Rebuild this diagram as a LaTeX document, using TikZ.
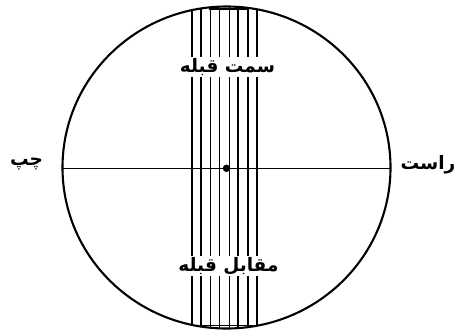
\documentclass[tikz,border=0pt]{standalone}
\usepackage{fontspec}
\TeXXeTstate=1
\newfontfamily\arabicfont[Script=Arabic]{DejaVu Sans}
\tikzset{
  rim/.style={line width=2.1pt},
  stripe/.style={line width=1.4pt},
  axis/.style={line width=1.1pt},
  lbl/.style={font=\arabicfont\bfseries\fontsize{18.5}{22}\selectfont, inner sep=1pt},
  lblw/.style={lbl, fill=white}
}
\begin{document}
\begin{tikzpicture}[x=1pt,y=-1pt]
\useasboundingbox (0,0) rectangle (457,330);
\coordinate (c) at (226.5,167.5);
\begin{scope}
  \clip (c) ellipse [x radius=164pt, y radius=161pt];
  \foreach \xx in {191.8,201,210.7,219.5,229.2,238,247.8,256.8}
    \draw[stripe] (\xx,0) -- (\xx,330);
\end{scope}
\draw[rim] (c) ellipse [x radius=164pt, y radius=161pt];
\coordinate (tl) at (209,8.8);
\coordinate (tr) at (249,8.8);
\draw[stripe] (tl) -- (tr);
\coordinate (bl) at (200,325.2);
\coordinate (br) at (253,325.2);
\draw[stripe] (bl) -- (br);
\coordinate (l) at (62.5,168.3);
\coordinate (r) at (390.5,168.3);
\draw[axis] (l) -- (r);
\node[circle, fill=black, inner sep=0pt, minimum size=7.5pt] (dot) at (226.5,168.3) {};
\node[lblw] (top) at (227.5,67) {\beginR سمت قبله\endR};
\node[lblw] (bot) at (228.5,266) {\beginR مقابل قبله\endR};
\node[lbl] (left) at (26.5,164) {\beginR چپ\endR};
\node[lbl, anchor=east] (right) at (456.5,165) {\beginR راست\endR};
\end{tikzpicture}
\end{document}
